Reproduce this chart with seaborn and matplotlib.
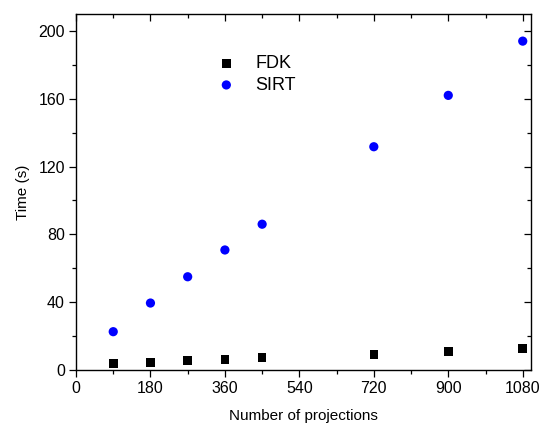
import matplotlib
matplotlib.use("Agg")
import matplotlib.pyplot as plt
import seaborn as sns
from matplotlib.ticker import MultipleLocator

projections = [90, 180, 270, 360, 450, 720, 900, 1080]
fdk_time = [3.9, 4.5, 5.7, 6.3, 7.5, 9.2, 11.0, 12.6]
sirt_time = [22.6, 39.5, 55.0, 70.8, 86.0, 131.7, 162.0, 194.0]

sns.set_style("ticks")
plt.rcParams['font.family'] = ['Liberation Sans', 'DejaVu Sans']
plt.rcParams['text.color'] = 'black'
plt.rcParams['axes.labelcolor'] = 'black'
plt.rcParams['xtick.color'] = 'black'
plt.rcParams['ytick.color'] = 'black'

fig = plt.figure(figsize=(5.41, 4.23), dpi=100)
ax = fig.add_axes([76 / 541, 1 - 370 / 423, (531 - 76) / 541, (370 - 14) / 423])

sns.scatterplot(x=projections, y=fdk_time, marker='s', color='black', s=38,
                edgecolor='none', label='FDK', ax=ax)
sns.scatterplot(x=projections, y=sirt_time, marker='o', color='#0000ff', s=44,
                edgecolor='none', label='SIRT', ax=ax)

ax.set_xlim(0, 1100)
ax.set_ylim(0, 210)
ax.xaxis.set_major_locator(MultipleLocator(180))
ax.xaxis.set_minor_locator(MultipleLocator(90))
ax.yaxis.set_major_locator(MultipleLocator(40))
ax.yaxis.set_minor_locator(MultipleLocator(20))

for side in ['top', 'right', 'left', 'bottom']:
    ax.spines[side].set_visible(True)
    ax.spines[side].set_linewidth(1.0)
    ax.spines[side].set_color('black')

ax.tick_params(which='both', top=True, right=True, labeltop=False, labelright=False,
               color='black', labelcolor='black', width=0.9, direction='out')
ax.tick_params(which='major', length=5, labelsize=11.5, pad=3)
ax.tick_params(which='minor', length=3)
# top/right ticks point inward
for t in ax.xaxis.get_major_ticks() + ax.xaxis.get_minor_ticks():
    t.tick2line.set_marker(3)
for t in ax.yaxis.get_major_ticks() + ax.yaxis.get_minor_ticks():
    t.tick2line.set_marker(0)

ax.set_xlabel('Number of projections', fontsize=11, labelpad=9)
ax.set_ylabel('Time (s)', fontsize=11, labelpad=6)

ax.legend(loc='upper left', bbox_to_anchor=(0.255, 0.93), frameon=False,
          fontsize=13, handletextpad=0.6, labelspacing=0.25, markerscale=1.0)

fig.savefig('out.png', dpi=100)
